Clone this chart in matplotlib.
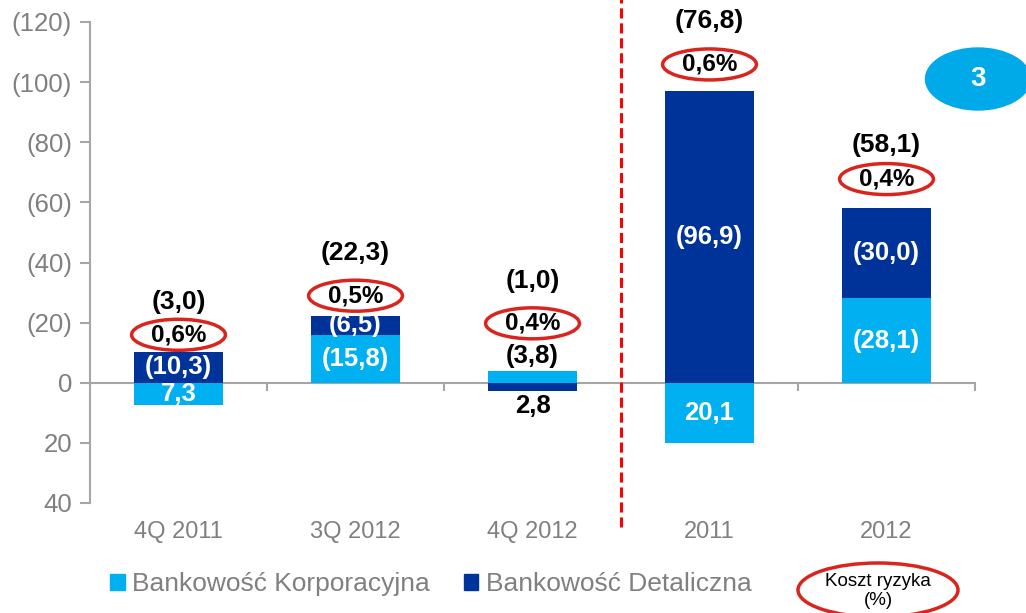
import matplotlib.pyplot as plt
from matplotlib.patches import Ellipse, Patch
from matplotlib.ticker import FuncFormatter

plt.rcParams["font.family"] = ["Liberation Sans", "DejaVu Sans"]

# Cost of risk by segment, PLN m (positive = charge, shown in brackets)
periods = ["4Q 2011", "3Q 2012", "4Q 2012", "2011", "2012"]
corporate = [-7.3, 15.8, 3.8, -20.1, 28.1]
retail = [10.3, 6.5, -2.8, 96.9, 30.0]
risk_cost = [0.6, 0.5, 0.4, 0.6, 0.4]

# label spacing above each bar, in pixels
ring_gap = [17, 20, 48, 27, 29]
total_gap = [33, 43, 42, 43, 34]

LIGHT = "#00B0F0"
DARK = "#003399"
RED = "#D9251D"
GREY = "#808080"
AXIS = "#A6A6A6"

W, H = 1026, 613


def fmt(v):
    s = f"{abs(v):.1f}".replace(".", ",")
    return f"({s})" if v > 0 else s


totals = [c + r for c, r in zip(corporate, retail)]
retail_bottom = [c if (c > 0) == (r > 0) else 0 for c, r in zip(corporate, retail)]
tops = [max(c, 0) + max(r, 0) for c, r in zip(corporate, retail)]

fig = plt.figure(figsize=(W / 100, H / 100), dpi=100)
ax = fig.add_axes([90 / W, 110 / H, 885 / W, 481 / H])
px = 481 / 160  # pixels per data unit

x = list(range(len(periods)))
ax.bar(x, corporate, 0.5, color=LIGHT)
ax.bar(x, retail, 0.5, bottom=retail_bottom, color=DARK)

ax.set_xlim(-0.5, 4.5)
ax.set_ylim(-40, 120)
ax.set_yticks(range(-40, 121, 20))
ax.yaxis.set_major_formatter(
    FuncFormatter(lambda v, p: f"({v:.0f})" if v > 0 else f"{abs(v):.0f}"))
ax.tick_params(axis="y", colors=AXIS, labelcolor=GREY, labelsize=18.5,
               length=7, width=1.5, pad=6)
ax.set_xticks(x, periods)
ax.tick_params(axis="x", length=0, labelcolor=GREY, labelsize=17, pad=13)

for side in ["top", "right", "bottom"]:
    ax.spines[side].set_visible(False)
ax.spines["left"].set_color(AXIS)
ax.spines["left"].set_linewidth(1.5)

# zero line with category separators
zero = ax.secondary_xaxis(40 / 160)
zero.set_xticks([0.5, 1.5, 2.5, 3.5, 4.5], labels=[])
zero.tick_params(direction="out", length=6, width=1.5, colors=AXIS)
for s in zero.spines.values():
    s.set_color(AXIS)
    s.set_linewidth(1.5)

# segment labels
for i in x:
    segs = [(corporate[i], 0), (retail[i], retail_bottom[i])]
    for val, base in segs:
        if abs(val) < 5:
            if val > 0:
                ax.text(i, base + val + 1, fmt(val), ha="center", va="bottom",
                        fontsize=18.5, fontweight="bold", color="black")
            else:
                ax.text(i, base + val - 0.8, fmt(val), ha="center", va="top",
                        fontsize=18.5, fontweight="bold", color="black")
        else:
            ax.text(i, base + val / 2, fmt(val), ha="center", va="center",
                    fontsize=18.5, fontweight="bold", color="white")

# cost-of-risk rings and totals
for i in x:
    yc = tops[i] + ring_gap[i] / px
    ax.add_patch(Ellipse((i, yc), 0.53, 31 / px, fill=False,
                         edgecolor=RED, linewidth=2.5, clip_on=False))
    ax.text(i, yc, f"{risk_cost[i]:.1f}%".replace(".", ","), ha="center",
            va="center", fontsize=17.5, fontweight="bold")
    ax.text(i, yc + total_gap[i] / px, fmt(totals[i]), ha="center",
            va="center", fontsize=19, fontweight="bold")

# quarters vs full years
ax.axvline(2.5, ymin=-0.05, ymax=1.05, color="#FF0000", linewidth=2.2,
           linestyle=(0, (3.3, 1.6)), clip_on=False)

# section badge
fig.add_artist(Ellipse((978 / W, 1 - 79 / H), 105 / W, 62 / H,
                       transform=fig.transFigure, color="#00A9E7"))
fig.text(978 / W, 1 - 79 / H, "3", ha="center", va="center", color="white",
         fontsize=20, fontweight="bold")

# legend
fig.legend(handles=[Patch(color=LIGHT), Patch(color=DARK)],
           labels=["Bankowość Korporacyjna", "Bankowość Detaliczna"],
           loc="center left", bbox_to_anchor=(110 / W, 1 - 584 / H), ncol=2,
           frameon=False, fontsize=19, labelcolor=GREY, handlelength=0.55,
           handleheight=0.55, handletextpad=0.3, columnspacing=1.27,
           borderaxespad=0, borderpad=0)
fig.add_artist(Ellipse((878 / W, 1 - 590 / H), 160 / W, 54 / H,
                       transform=fig.transFigure, fill=False, edgecolor=RED,
                       linewidth=2.5))
fig.text(878 / W, 1 - 591 / H, "Koszt ryzyka\n(%)", ha="center", va="center",
         fontsize=13.5, linespacing=1.1)

fig.savefig("out.png", dpi=100)
